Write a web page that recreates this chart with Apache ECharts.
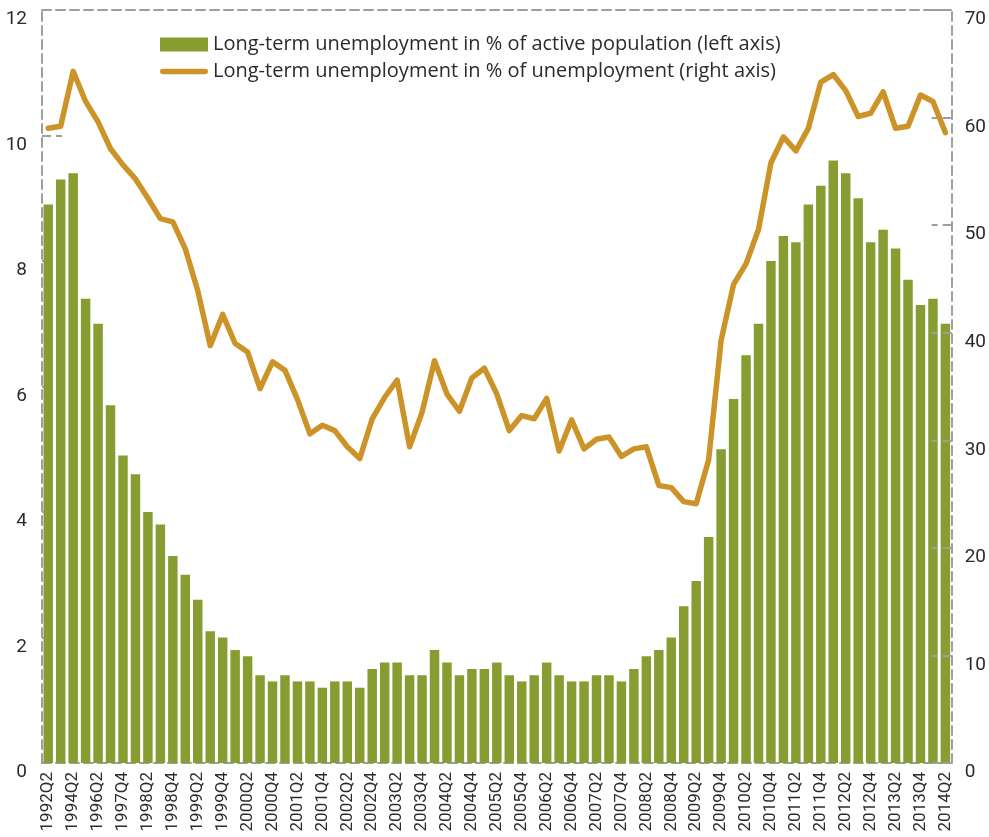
<!DOCTYPE html>
<html>
<head>
<meta charset="utf-8">
<script src="https://cdn.jsdelivr.net/npm/echarts@6/dist/echarts.min.js"></script>
<style>
html,body{margin:0;padding:0;background:#fff;}
#chart{width:989px;height:837px;}
</style>
</head>
<body>
<div id="chart"></div>
<script>
var categories = ['1992Q2','1993Q2','1994Q2','1995Q2','1996Q2','1997Q2',
  '1997Q4',
  '1998Q1','1998Q2','1998Q3','1998Q4',
  '1999Q1','1999Q2','1999Q3','1999Q4',
  '2000Q1','2000Q2','2000Q3','2000Q4',
  '2001Q1','2001Q2','2001Q3','2001Q4',
  '2002Q1','2002Q2','2002Q3','2002Q4',
  '2003Q1','2003Q2','2003Q3','2003Q4',
  '2004Q1','2004Q2','2004Q3','2004Q4',
  '2005Q1','2005Q2','2005Q3','2005Q4',
  '2006Q1','2006Q2','2006Q3','2006Q4',
  '2007Q1','2007Q2','2007Q3','2007Q4',
  '2008Q1','2008Q2','2008Q3','2008Q4',
  '2009Q1','2009Q2','2009Q3','2009Q4',
  '2010Q1','2010Q2','2010Q3','2010Q4',
  '2011Q1','2011Q2','2011Q3','2011Q4',
  '2012Q1','2012Q2','2012Q3','2012Q4',
  '2013Q1','2013Q2','2013Q3','2013Q4',
  '2014Q1','2014Q2'];

var activePopulationShare = [8.9,9.3,9.4,7.4,7.0,5.7,
  4.9,
  4.6,4.0,3.8,3.3,
  3.0,2.6,2.1,2.0,
  1.8,1.7,1.4,1.3,
  1.4,1.3,1.3,1.2,
  1.3,1.3,1.2,1.5,
  1.6,1.6,1.4,1.4,
  1.8,1.6,1.4,1.5,
  1.5,1.6,1.4,1.3,
  1.4,1.6,1.4,1.3,
  1.3,1.4,1.4,1.3,
  1.5,1.7,1.8,2.0,
  2.5,2.9,3.6,5.0,
  5.8,6.5,7.0,8.0,
  8.4,8.3,8.9,9.2,
  9.6,9.4,9.0,8.3,
  8.5,8.2,7.7,7.3,
  7.4,7.0];

var unemploymentShare = [59.0,59.2,64.3,61.5,59.6,57.1,
  55.6,
  54.3,52.5,50.6,50.3,
  47.8,43.9,38.8,41.7,
  39.0,38.2,34.8,37.3,
  36.5,33.8,30.6,31.4,
  30.9,29.4,28.3,32.0,
  34.0,35.6,29.4,32.6,
  37.4,34.3,32.7,35.8,
  36.7,34.3,30.9,32.3,
  32.0,33.9,29.0,31.9,
  29.2,30.1,30.3,28.5,
  29.2,29.4,25.8,25.6,
  24.3,24.1,28.2,39.3,
  44.5,46.4,49.6,55.8,
  58.2,56.9,59.0,63.3,
  64.0,62.5,60.1,60.4,
  62.4,59.0,59.2,62.1,
  61.5,58.6];

var seriesNames = ['Long-term unemployment in % of active population (left axis)',
                   'Long-term unemployment in % of unemployment (right axis)'];

var FONT = 'Roboto, "Liberation Sans", sans-serif';
var LEGEND_FONT = '"Open Sans", Roboto, sans-serif';
var GRAY = '#9e9e9e';
var BAR_COLOR = '#879D32';
var LINE_COLOR = '#CC9428';
var dash = [9, 5];

var chart = echarts.init(document.getElementById('chart'), null, {renderer: 'canvas'});
chart.setOption({
  animation: false,
  backgroundColor: '#fff',
  textStyle: {fontFamily: FONT},
  grid: {left: 42, right: 35, top: 10, bottom: 74, containLabel: false},
  legend: {
    orient: 'vertical',
    left: 155,
    top: 29,
    itemWidth: 48,
    itemHeight: 14,
    itemGap: 6,
    textStyle: {fontFamily: LEGEND_FONT, fontSize: 20, color: '#2b2b2b', lineHeight: 21},
    data: [
      {name: seriesNames[0], icon: 'rect'},
      {name: seriesNames[1], icon: 'path://M2.75,0 L45.25,0 A2.75,2.75 0 0 1 45.25,5.5 L2.75,5.5 A2.75,2.75 0 0 1 2.75,0 Z', itemStyle: {color: LINE_COLOR}}
    ]
  },
  xAxis: [{
    type: 'category',
    data: categories,
    position: 'bottom',
    boundaryGap: true,
    axisLine: {show: true, onZero: false, lineStyle: {color: GRAY, width: 2, type: dash}},
    axisTick: {show: false},
    axisLabel: {interval: 1, rotate: 90, margin: 9, fontSize: 17, color: '#2b2b2b', fontFamily: FONT},
    splitLine: {show: false}
  }, {
    type: 'category',
    data: categories,
    position: 'top',
    boundaryGap: true,
    axisLine: {show: true, onZero: false, lineStyle: {color: GRAY, width: 2, type: dash}},
    axisTick: {show: false},
    axisLabel: {show: false},
    splitLine: {show: false}
  }],
  yAxis: [{
    type: 'value',
    position: 'left',
    min: 0, max: 12, interval: 2,
    axisLine: {show: true, lineStyle: {color: GRAY, width: 2, type: dash}},
    axisTick: {show: true, inside: true, length: 20, lineStyle: {color: GRAY, width: 2, type: dash}},
    axisLabel: {fontSize: 19, color: '#2b2b2b', margin: 15, verticalAlign: 'top', fontFamily: FONT},
    splitLine: {show: false}
  }, {
    type: 'value',
    position: 'right',
    min: 0, max: 70, interval: 10,
    z: 3,
    axisLine: {show: true, lineStyle: {color: GRAY, width: 2, type: dash}},
    axisTick: {show: true, inside: true, length: 20, lineStyle: {color: GRAY, width: 2, type: dash}},
    axisLabel: {fontSize: 19, color: '#2b2b2b', margin: 13, verticalAlign: 'top', fontFamily: FONT},
    splitLine: {show: false}
  }],
  series: [{
    name: seriesNames[0],
    type: 'bar',
    xAxisIndex: 0,
    yAxisIndex: 0,
    data: activePopulationShare,
    barWidth: '76%',
    itemStyle: {color: BAR_COLOR},
    z: 2
  }, {
    name: seriesNames[1],
    type: 'line',
    xAxisIndex: 0,
    yAxisIndex: 1,
    data: unemploymentShare,
    showSymbol: false,
    symbol: 'none',
    lineStyle: {color: LINE_COLOR, width: 5.5, cap: 'round', join: 'round'},
    itemStyle: {color: LINE_COLOR},
    z: 5
  }]
});
</script>
</body>
</html>
